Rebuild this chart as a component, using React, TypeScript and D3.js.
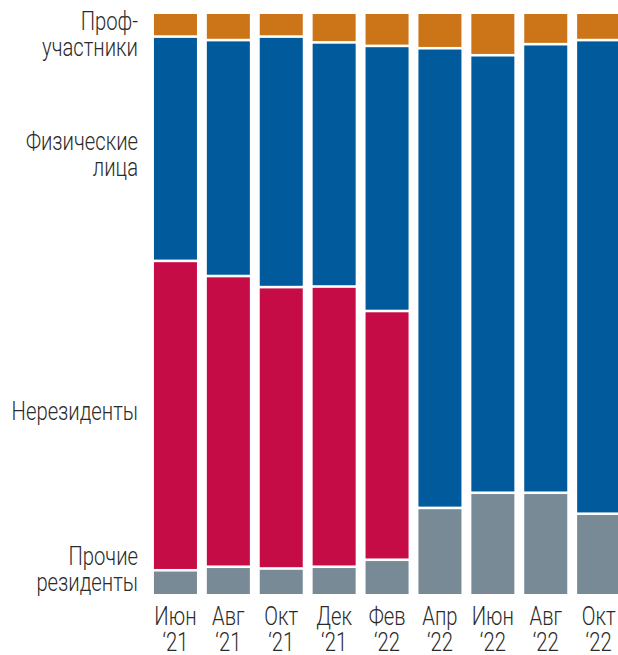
import React, { useRef, useEffect } from 'react'
import * as d3 from 'd3'

const months = ['Июн', 'Авг', 'Окт', 'Дек', 'Фев', 'Апр', 'Июн', 'Авг', 'Окт']
const years = ['‘21', '‘21', '‘21', '‘21', '‘22', '‘22', '‘22', '‘22', '‘22']

// shares, % (bottom to top)
const other = [4.3, 4.9, 4.6, 4.9, 6.1, 15.0, 17.6, 17.6, 14.0]
const nonres = [53.1, 49.9, 48.3, 48.1, 42.7, 0, 0, 0, 0]
const retail = [38.5, 40.5, 43.0, 41.9, 45.5, 78.9, 75.1, 77.0, 81.3]
const prof = [4.1, 4.7, 4.1, 5.1, 5.7, 6.1, 7.3, 5.4, 4.7]

const keys = ['other', 'nonres', 'retail', 'prof']
const colors: Record<string, string> = {
  other: '#778a96',
  nonres: '#c60c46',
  retail: '#005a9c',
  prof: '#cc7418',
}

const FONT = 'Roboto, "Noto Sans", sans-serif'

export default function App() {
  const ref = useRef<SVGSVGElement>(null)

  useEffect(() => {
    const el = ref.current
    if (!el) return
    const svg = d3.select(el)
    svg.selectAll('*').remove()

    const rows = months.map((m, i) => ({
      id: i,
      other: other[i],
      nonres: nonres[i],
      retail: retail[i],
      prof: prof[i],
    }))

    const x = d3.scaleBand<number>()
      .domain(rows.map(d => d.id))
      .range([149, 625.1])
      .paddingInner(0.187)
      .paddingOuter(0.0935)

    const y = d3.scaleLinear().domain([0, 100]).range([595.3, 12.7])

    const series = d3.stack<any>().keys(keys)(rows)
    const gap = 1.3

    svg.append('g')
      .selectAll('g')
      .data(series)
      .join('g')
      .attr('fill', s => colors[s.key])
      .selectAll('rect')
      .data(s => s.filter(d => d[1] - d[0] > 0))
      .join('rect')
      .attr('x', d => x(d.data.id)!)
      .attr('width', x.bandwidth())
      .attr('y', d => y(d[1]) + gap)
      .attr('height', d => Math.max(0, y(d[0]) - y(d[1]) - 2 * gap))

    // text is squeezed horizontally to mimic the narrow face of the original
    const sx = 0.81
    const addText = (g: any, t: string, tx: number, ty: number, anchor: string) => {
      g.append('text')
        .attr('transform', `translate(${tx},${ty}) scale(${sx},1)`)
        .attr('text-anchor', anchor)
        .text(t)
    }

    const ax = svg.append('g')
      .attr('font-family', FONT)
      .attr('font-weight', 300)
      .attr('font-size', 25)
      .attr('fill', '#2b2b2b')
    rows.forEach(d => {
      const cx = x(d.id)! + x.bandwidth() / 2
      addText(ax, months[d.id], cx, 624.5, 'middle')
      addText(ax, years[d.id], cx, 650.5, 'middle')
    })

    // series labels
    const labels = [
      { lines: ['Проф-', 'участники'], y: 30 },
      { lines: ['Физические', 'лица'], y: 150 },
      { lines: ['Нерезиденты'], y: 419.5 },
      { lines: ['Прочие', 'резиденты'], y: 565 },
    ]
    const lg = svg.append('g')
      .attr('font-family', FONT)
      .attr('font-weight', 300)
      .attr('font-size', 25)
      .attr('fill', '#2b2b2b')
    labels.forEach(l => {
      l.lines.forEach((t, j) => addText(lg, t, 138, l.y + j * 25.5, 'end'))
    })
  }, [])

  return (
    <svg
      ref={ref}
      width={618}
      height={655}
      style={{ position: 'absolute', left: 0, top: 0, display: 'block', background: '#fff' }}
    />
  )
}
